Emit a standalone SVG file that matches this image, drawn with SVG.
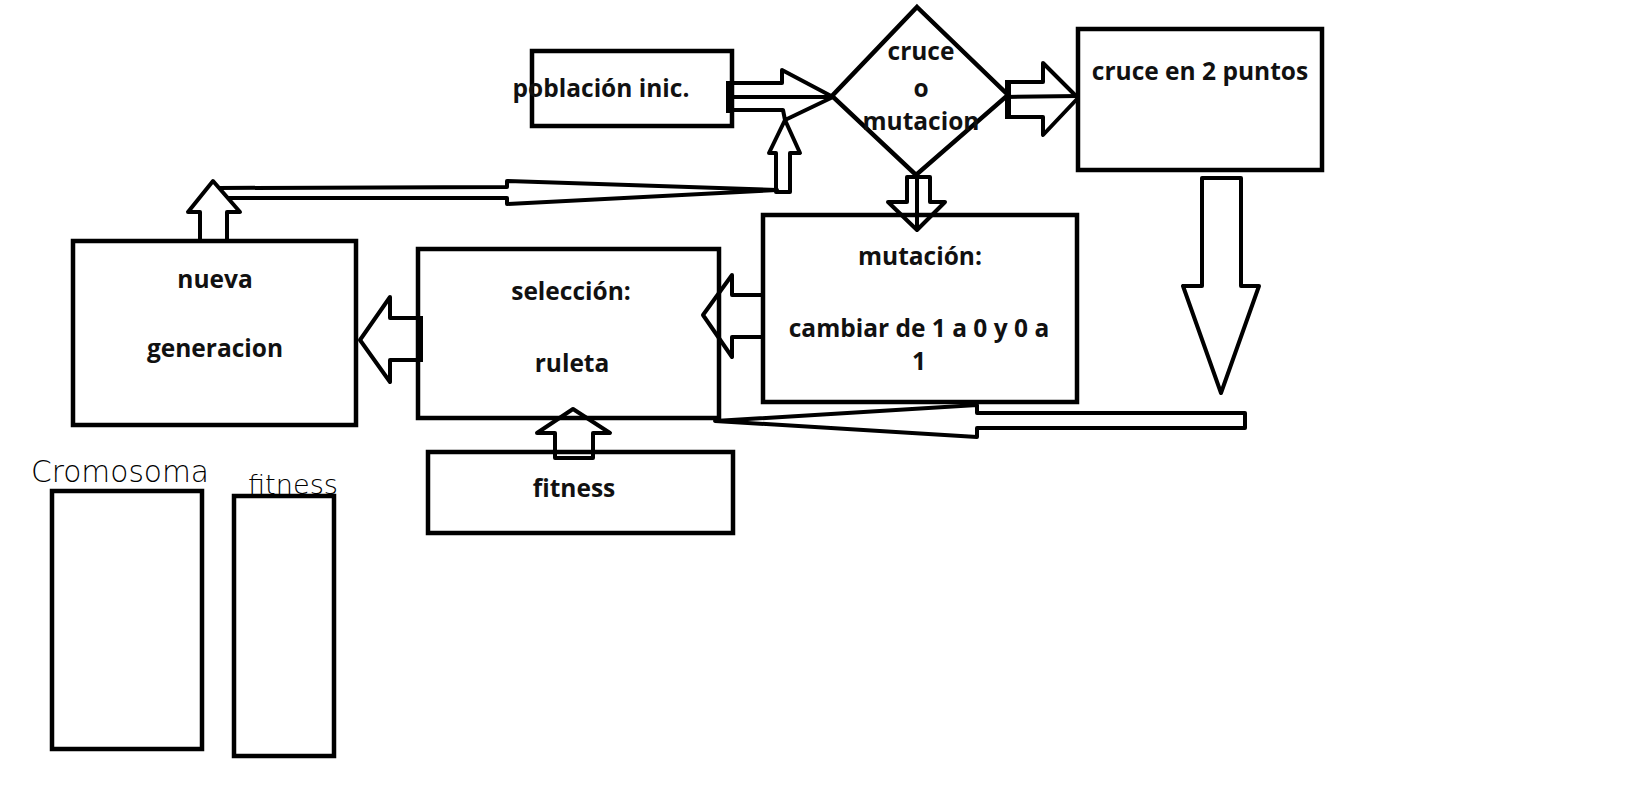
<svg xmlns="http://www.w3.org/2000/svg" width="1628" height="786" viewBox="0 0 1628 786">
<style>
.box{fill:#fff;stroke:#000;stroke-width:4.5}
.arr{fill:none;stroke:#000;stroke-width:4;stroke-linejoin:round}
.ln{fill:none;stroke:#000;stroke-width:4}
.br{fill:none;stroke:#000;stroke-width:6}
.t{font-family:"Open Sans","Liberation Sans",sans-serif;font-weight:700;font-size:24.5px;fill:#111;text-anchor:middle}
.hw{font-family:"DejaVu Sans",sans-serif;font-weight:200;fill:#000}
</style>
<rect width="1628" height="786" fill="#fff"/>
<g id="poblacion">
<rect class="box" x="532" y="51" width="200" height="75"/>
<text class="t" x="601" y="97">población inic.</text>
</g>
<g id="decision">
<polygon class="box" points="917,7 1008,95 916,175 832,96"/>
<text class="t" x="921" y="60">cruce</text>
<text class="t" x="921" y="97">o</text>
<text class="t" x="921" y="130">mutacion</text>
</g>
<g id="cruce">
<rect class="box" x="1078" y="29" width="244" height="141"/>
<text class="t" x="1200" y="80">cruce en 2 puntos</text>
</g>
<g id="mutacion">
<rect class="box" x="763" y="215" width="314" height="187"/>
<text class="t" x="920" y="265">mutación:</text>
<text class="t" x="919" y="337">cambiar de 1 a 0 y 0 a</text>
<text class="t" x="919" y="370">1</text>
</g>
<g id="seleccion">
<rect class="box" x="418" y="249" width="301" height="169"/>
<text class="t" x="571" y="300">selección:</text>
<text class="t" x="572" y="372">ruleta</text>
</g>
<g id="nueva">
<rect class="box" x="73" y="241" width="283" height="184"/>
<text class="t" x="215" y="288">nueva</text>
<text class="t" x="215" y="357">generacion</text>
</g>
<g id="fitness">
<rect class="box" x="428" y="452" width="305" height="81"/>
<text class="t" x="574" y="497">fitness</text>
</g>
<g id="cromosoma-tabla">
<rect class="box" x="52" y="491" width="150" height="258"/>
<text class="hw" x="31" y="482" font-size="30" textLength="178" lengthAdjust="spacingAndGlyphs">Cromosoma</text>
</g>
<g id="fitness-tabla">
<rect class="box" x="234" y="496" width="100" height="260"/>
<text class="hw" x="248" y="494" font-size="27" textLength="90" lengthAdjust="spacingAndGlyphs">fitness</text>
</g>
<g id="connectors">
<polyline class="arr" points="732,83 782,83 782,70 833,97 785,120 783,110 732,110"/>
<line class="ln" x1="732" y1="97" x2="833" y2="97"/>
<line class="br" x1="729" y1="81" x2="729" y2="113"/>
<polygon class="arr" points="776,192 776,153 769,153 785,120 800,153 790,153 790,192"/>
<polyline class="arr" points="219,188 507,187 507,181 777,190 507,204 507,198 228,198"/>
<polygon class="arr" points="200,241 200,212 188,212 213,181 240,212 227,212 227,241"/>
<polyline class="arr" points="1007,82 1043,82 1043,63 1078,98 1043,135 1043,117 1007,117"/>
<line class="ln" x1="1007" y1="97" x2="1078" y2="96"/>
<line class="br" x1="1008" y1="80" x2="1008" y2="119"/>
<polygon class="arr" points="907,177 907,202 888,202 917,230 945,202 930,202 930,177"/>
<line class="ln" x1="917" y1="175" x2="917" y2="228"/>
<polygon class="arr" points="1202,178 1241,178 1241,286 1259,286 1221,393 1183,286 1202,286"/>
<polygon class="arr" points="1245,413 977,413 977,405 715,421 977,437 977,428 1245,428"/>
<polyline class="arr" points="761,295 732,295 732,275 703,315 732,357 732,337 761,337"/>
<polyline class="arr" points="420,318 390,318 390,297 360,340 390,382 390,360 420,360"/>
<line class="br" x1="420" y1="316" x2="420" y2="362"/>
<polygon class="arr" points="555,458 555,433 537,433 573,409 610,433 593,433 593,458"/>
</g>
</svg>
